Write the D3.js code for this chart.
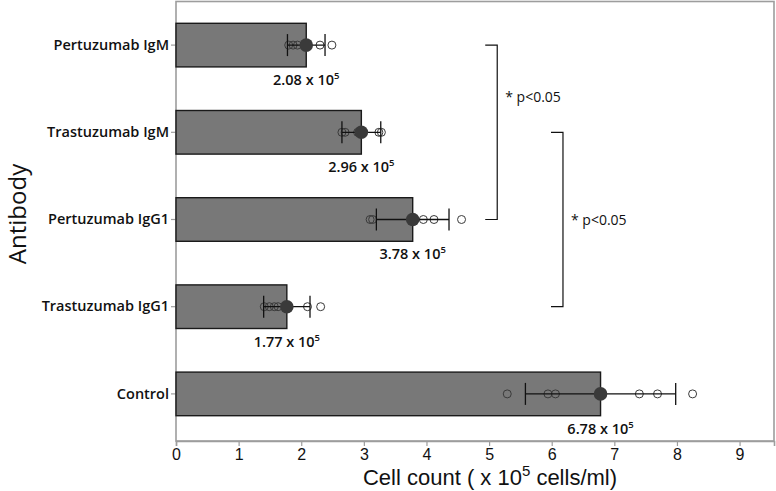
<!DOCTYPE html>
<html><head><meta charset="utf-8">
<script src="https://cdn.jsdelivr.net/npm/d3@7"></script>
<style>body{margin:0;background:#fff}svg{display:block}</style>
</head><body><svg id="c" width="776" height="491"></svg>
<script>
const categories = ["Pertuzumab IgM","Trastuzumab IgM","Pertuzumab IgG1","Trastuzumab IgG1","Control"];
const means = [2.08, 2.96, 3.78, 1.77, 6.78];
const sds = [0.30, 0.31, 0.58, 0.37, 1.20];
const replicates = [
  [1.80, 1.87, 1.94, 2.30, 2.49],
  [2.65, 2.70, 2.90, 3.24, 3.28],
  [3.10, 3.14, 3.95, 4.12, 4.56],
  [1.41, 1.49, 1.57, 1.63, 2.10, 2.31],
  [5.29, 5.94, 6.06, 7.40, 7.69, 8.25]
];
const valueLabels = ["2.08", "2.96", "3.78", "1.77", "6.78"];
const xTicks = [0,1,2,3,4,5,6,7,8,9];
const comparisons = [
  ["Pertuzumab IgM", "Pertuzumab IgG1", "* p<0.05"],
  ["Trastuzumab IgM", "Trastuzumab IgG1", "* p<0.05"]
];

const svg = d3.select("#c");
const L = 176, R = 774, T = 1.5, B = 441;
const x = d3.scaleLinear().domain([0, 9.55]).range([L, R]);
const y = d3.scaleBand().domain(categories).range([1.5, 437.5]).paddingInner(0.5).paddingOuter(0.25);
const bw = y.bandwidth();
const cy = c => y(c) + bw / 2;
const humanist = "'Open Sans', 'Noto Sans', sans-serif";
const grot = "'Liberation Sans', Arial, Helvetica, sans-serif";

// frame
svg.append("rect").attr("x", L).attr("y", T).attr("width", R - L).attr("height", B - T)
  .attr("fill", "none").attr("stroke", "#9d9d9d").attr("stroke-width", 1.6);

// x axis
const xAxis = d3.axisBottom(x).tickValues(xTicks).tickSize(5).tickPadding(3).tickFormat(d3.format("d"));
const gx = svg.append("g").attr("transform", `translate(0,${B})`).call(xAxis);
gx.select(".domain").attr("stroke", "#9d9d9d").attr("stroke-width", 1.6);
gx.selectAll(".tick line").attr("stroke", "#9d9d9d").attr("stroke-width", 1.2);
gx.selectAll(".tick text").attr("font-family", grot).attr("font-size", 16).attr("fill", "#111");

// y axis
const yAxis = d3.axisLeft(y).tickSize(5).tickPadding(2);
const gy = svg.append("g").attr("transform", `translate(${L},0)`).call(yAxis);
gy.select(".domain").remove();
gy.selectAll(".tick line").attr("stroke", "#9d9d9d").attr("stroke-width", 1.2);
gy.selectAll(".tick text").attr("font-family", humanist).attr("font-weight", 600)
  .attr("font-size", 14.5).attr("fill", "#111");

// bars
const rows = categories.map((c, i) => ({c, m: means[i], sd: sds[i], pts: replicates[i], lab: valueLabels[i]}));
svg.append("g").selectAll("rect").data(rows).join("rect")
  .attr("x", x(0)).attr("y", d => y(d.c)).attr("width", d => x(d.m) - x(0)).attr("height", bw)
  .attr("fill", "#787878").attr("stroke", "#1a1a1a").attr("stroke-width", 1.4);

// replicate points
const gp = svg.append("g");
rows.forEach(d => {
  gp.selectAll(null).data(d.pts).join("circle")
    .attr("cx", v => x(v)).attr("cy", cy(d.c)).attr("r", 4)
    .attr("fill", "none").attr("stroke", "#3a3a3a").attr("stroke-width", 1);
});

// error bars
const ge = svg.append("g").attr("stroke", "#111").attr("stroke-width", 1.3);
rows.forEach(d => {
  const yc = cy(d.c);
  ge.append("line").attr("x1", x(d.m - d.sd)).attr("x2", x(d.m + d.sd)).attr("y1", yc).attr("y2", yc);
  [d.m - d.sd, d.m + d.sd].forEach(v => {
    ge.append("line").attr("x1", x(v)).attr("x2", x(v)).attr("y1", yc - 11).attr("y2", yc + 11);
  });
});

// mean dots
svg.append("g").selectAll("circle").data(rows).join("circle")
  .attr("cx", d => x(d.m)).attr("cy", d => cy(d.c)).attr("r", 6.8).attr("fill", "#3a3a3a");

// value labels
const gl = svg.append("g").attr("font-family", humanist).attr("font-weight", 600).attr("font-size", 14.5).attr("fill", "#111");
rows.forEach(d => {
  const t = gl.append("text").attr("x", x(d.m)).attr("y", y(d.c) + bw + 18).attr("text-anchor", "middle");
  t.append("tspan").text(d.lab + " x 10");
  t.append("tspan").attr("dy", -6).attr("font-size", 9.5).text("5");
});

// significance brackets
const bx = [5.13, 6.18];
const labelFrac = [0.3, 0.5];
const gb = svg.append("g");
comparisons.forEach((cmp, i) => {
  const y1 = cy(cmp[0]), y2 = cy(cmp[1]), xx = x(bx[i]);
  gb.append("path").attr("d", `M${xx - 12},${y1}H${xx}V${y2}H${xx - 12}`)
    .attr("fill", "none").attr("stroke", "#111").attr("stroke-width", 1.2);
  gb.append("text").attr("x", xx + 8).attr("y", y1 + (y2 - y1) * labelFrac[i] + 5)
    .attr("font-family", humanist).attr("font-weight", 500).attr("font-size", 14).attr("fill", "#111")
    .text(cmp[2]);
});

// axis titles
const xt = svg.append("text").attr("x", 490).attr("y", 485).attr("text-anchor", "middle")
  .attr("font-family", grot).attr("font-size", 22).attr("fill", "#111");
xt.append("tspan").text("Cell count ( x 10");
xt.append("tspan").attr("dy", -9).attr("font-size", 15).text("5");
xt.append("tspan").attr("dy", 9).text(" cells/ml)");

svg.append("text").attr("transform", "translate(26,214) rotate(-90)").attr("text-anchor", "middle")
  .attr("font-family", humanist).attr("font-size", 24).attr("fill", "#111").text("Antibody");
</script></body></html>
